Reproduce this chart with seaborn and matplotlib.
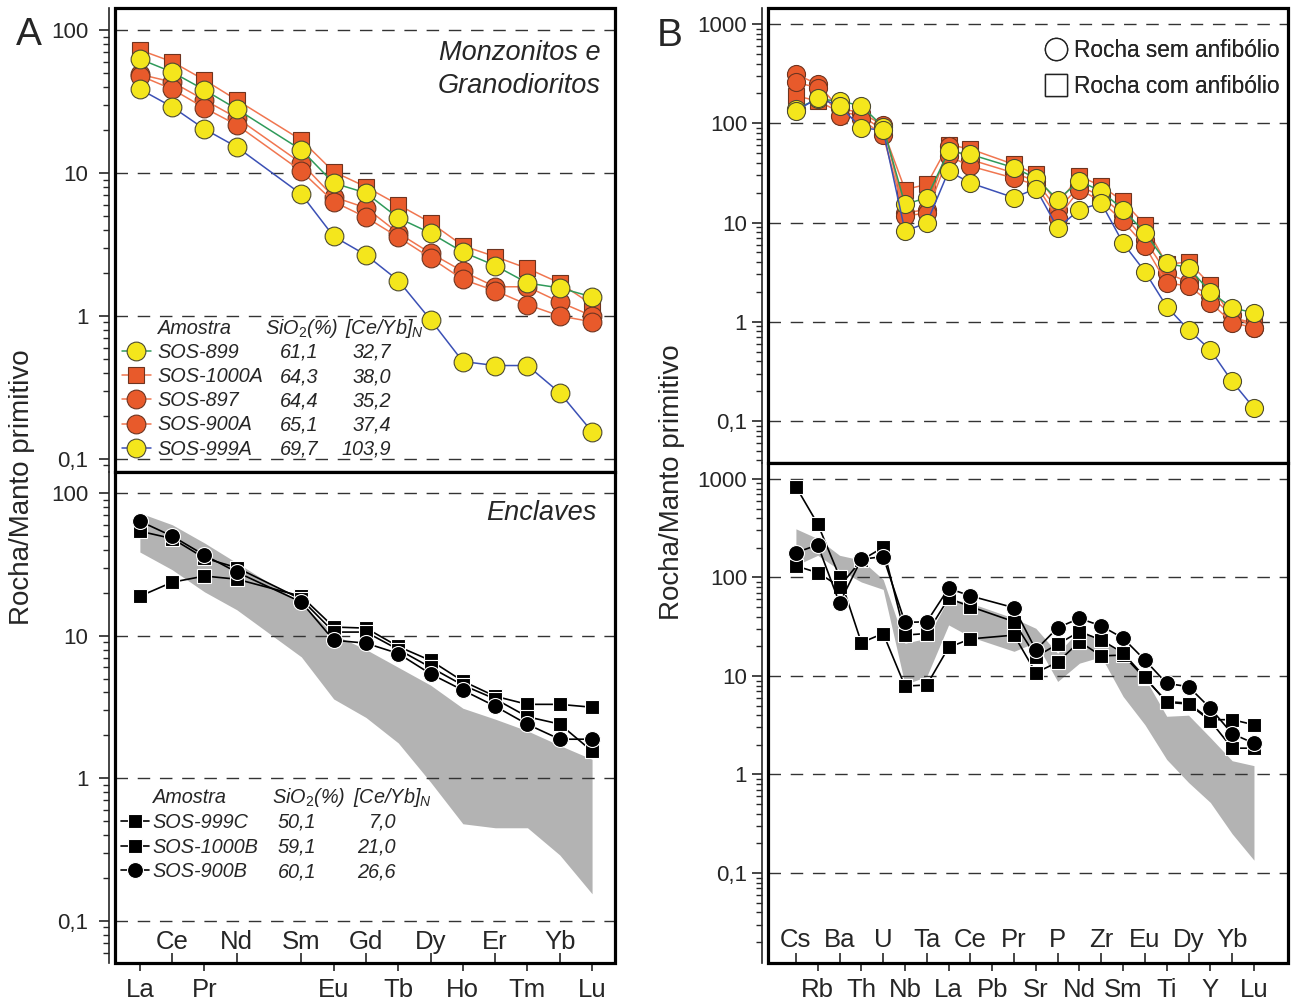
import numpy as np
import pandas as pd
import matplotlib
matplotlib.use("Agg")
import matplotlib.pyplot as plt
import seaborn as sns
from matplotlib.ticker import LogLocator, FuncFormatter, NullFormatter
from matplotlib.lines import Line2D
from matplotlib.patches import Rectangle

nan = np.nan

# ---------------- data ----------------
ree_labels = ["La", "Ce", "Pr", "Nd", "Pm", "Sm", "Eu", "Gd", "Tb", "Dy", "Ho", "Er", "Tm", "Yb", "Lu"]

# Panel A top: granitoids (REE)
ree_sos899 = [62.7, 50.8, 38.1, 28.0, nan, 14.5, 8.5, 7.25, 4.85, 3.8, 2.8, 2.25, 1.7, 1.57, 1.36]
ree_sos1000a = [72.5, 60.0, 44.7, 32.4, nan, 17.0, 10.2, 8.0, 6.0, 4.5, 3.1, 2.6, 2.15, 1.7, 1.2]
ree_sos897 = [49.0, 43.3, 32.4, 24.3, nan, 11.7, 6.8, 5.7, 3.8, 2.75, 2.05, 1.6, 1.6, 1.25, 1.0]
ree_sos900a = [48.0, 38.6, 28.5, 21.7, nan, 10.3, 6.3, 4.9, 3.56, 2.55, 1.8, 1.5, 1.2, 1.0, 0.91]
ree_sos999a = [38.6, 29.0, 20.3, 15.2, nan, 7.1, 3.6, 2.67, 1.77, 0.94, 0.48, 0.45, 0.45, 0.29, 0.155]

# Panel A bottom: enclaves (REE)
ree_sos999c = [18.9, 23.7, 26.2, 24.9, nan, 18.9, 11.5, 11.3, 8.4, 6.7, 4.8, 3.76, 3.3, 3.3, 3.15]
ree_sos1000b = [54.0, 48.0, 35.0, 30.0, nan, 18.0, 10.6, 10.6, 8.0, 6.0, 4.5, 3.6, 2.7, 2.4, 1.55]
ree_sos900b = [63.5, 49.9, 36.7, 27.9, nan, 17.2, 9.3, 8.86, 7.5, 5.4, 4.15, 3.2, 2.39, 1.88, 1.88]

spider_labels = ["Cs", "Rb", "Ba", "Th", "U", "Nb", "Ta", "La", "Ce", "Pb", "Pr",
                 "Sr", "P", "Nd", "Zr", "Sm", "Eu", "Ti", "Dy", "Y", "Yb", "Lu"]

# Panel B top: granitoids (multi-element)
sp_sos899 = [140, 175, 168, 150, 92, 15.2, 17.8, 52, 48.6, nan, 35.7, 28, 17, 26.1, 20.7, 13.5, 7.9, 3.9, 3.5, 2.0, 1.38, 1.23]
sp_sos1000a = [189, 168, 130, 120, 85, 21.5, 24.2, 61, 55, nan, 38.5, 30.5, 15.5, 29.4, 23.3, 16.4, 9.5, 3.8, 4.0, 2.37, 1.1, 0.97]
sp_sos897 = [312, 248, 141, 128, 95.5, 12.5, 13.5, 59, 43, nan, 31.6, 26.1, 13.5, 23.3, 18.4, 12.0, 6.7, 3.1, 2.5, 1.8, 1.17, 0.87]
sp_sos900a = [258, 229, 119, 110, 75.7, 11.6, 12.5, 46.7, 37, nan, 28, 24, 11.1, 21.5, 16.4, 10.3, 5.8, 2.45, 2.3, 1.56, 0.98, 0.87]
sp_sos999a = [133, 180, 150, 90, 85, 8.2, 9.9, 33, 25, nan, 17.8, 22, 8.8, 13.5, 15.7, 6.2, 3.2, 1.42, 0.83, 0.52, 0.25, 0.135]

# Panel B bottom: enclaves (multi-element)
sp_sos999c = [836, 349, 102, 21.8, 27, 7.9, 8.1, 19.5, 23.8, nan, 26, 10.8, 13.8, 22.3, 16, 16.3, 9.5, 5.5, 5.3, 3.6, 3.6, 3.2]
sp_sos1000b = [131, 112, 81, 150, 202, 26, 27, 61.5, 50.6, nan, 35.6, 15.7, 21, 28.2, 23.2, 17.1, 9.7, 5.4, 5.2, 3.5, 1.85, 1.85]
sp_sos900b = [179, 214, 55, 153, 163, 35, 35.5, 77.6, 65, nan, 49.3, 18.4, 30.9, 38.5, 32.2, 24.2, 14.5, 8.4, 7.8, 4.7, 2.6, 2.07]

granitoid_names = ["SOS-899", "SOS-1000A", "SOS-897", "SOS-900A", "SOS-999A"]
granitoid_sio2 = ["61,1", "64,3", "64,4", "65,1", "69,7"]
granitoid_ceyb = ["32,7", "38,0", "35,2", "37,4", "103,9"]
enclave_names = ["SOS-999C", "SOS-1000B", "SOS-900B"]
enclave_sio2 = ["50,1", "59,1", "60,1"]
enclave_ceyb = ["7,0", "21,0", "26,6"]

ree_gran = {"SOS-899": ree_sos899, "SOS-1000A": ree_sos1000a, "SOS-897": ree_sos897,
            "SOS-900A": ree_sos900a, "SOS-999A": ree_sos999a}
ree_encl = {"SOS-999C": ree_sos999c, "SOS-1000B": ree_sos1000b, "SOS-900B": ree_sos900b}
sp_gran = {"SOS-899": sp_sos899, "SOS-1000A": sp_sos1000a, "SOS-897": sp_sos897,
           "SOS-900A": sp_sos900a, "SOS-999A": sp_sos999a}
sp_encl = {"SOS-999C": sp_sos999c, "SOS-1000B": sp_sos1000b, "SOS-900B": sp_sos900b}

# ---------------- style ----------------
sns.set_style("ticks")
plt.rcParams["font.family"] = ["Liberation Sans", "DejaVu Sans"]
plt.rcParams["mathtext.fontset"] = "custom"
plt.rcParams["mathtext.it"] = "Liberation Sans:italic"
plt.rcParams["mathtext.rm"] = "Liberation Sans"
plt.rcParams["mathtext.default"] = "it"

YELLOW = "#f4e61c"
ORANGE = "#e85a2b"
EDGE_Y = "#4d4a30"
EDGE_O = "#6e3420"
gran_style = {
    "SOS-899": dict(line="#2f9a5a", face=YELLOW, edge=EDGE_Y, marker="o"),
    "SOS-1000A": dict(line="#f07650", face=ORANGE, edge=EDGE_O, marker="s"),
    "SOS-897": dict(line="#f07650", face=ORANGE, edge=EDGE_O, marker="o"),
    "SOS-900A": dict(line="#f07650", face=ORANGE, edge=EDGE_O, marker="o"),
    "SOS-999A": dict(line="#3b50b5", face=YELLOW, edge=EDGE_Y, marker="o"),
}
encl_marker = {"SOS-999C": "s", "SOS-1000B": "s", "SOS-900B": "o"}
gran_draw_order = ["SOS-1000A", "SOS-897", "SOS-900A", "SOS-899", "SOS-999A"]
encl_draw_order = ["SOS-999C", "SOS-1000B", "SOS-900B"]

W, H = 1291, 1000
fig = plt.figure(figsize=(W / 100, H / 100), dpi=100)


def add_axes_px(x0, y0, x1, y1):
    return fig.add_axes([x0 / W, 1 - y1 / H, (x1 - x0) / W, (y1 - y0) / H])


axA_top = add_axes_px(115, 8, 615, 472)
axA_bot = add_axes_px(115, 472, 615, 963)
axB_top = add_axes_px(768, 8, 1288, 463)
axB_bot = add_axes_px(768, 463, 1288, 963)


def plot_series(ax, vals, color, face, edge, marker, ms, lw, mew, z):
    df = pd.DataFrame({"pos": np.arange(len(vals)), "val": vals}).dropna()
    sns.lineplot(data=df, x="pos", y="val", ax=ax, color=color, lw=lw, marker=marker,
                 markersize=ms, markerfacecolor=face, markeredgecolor=edge,
                 markeredgewidth=mew, estimator=None, sort=False, zorder=z)
    return ax.lines[-1]


def add_band(ax, series):
    arr = np.array(list(series.values()), dtype=float)
    lo = np.nanmin(arr, axis=0)
    hi = np.nanmax(arr, axis=0)
    pos = np.arange(arr.shape[1])
    m = ~np.isnan(lo)
    ax.fill_between(pos[m], lo[m], hi[m], color="#b3b3b3", lw=0, zorder=0.3)


def style_ax(ax, xlim, ylim, ypad):
    ax.set_yscale("log")
    ax.set_xlim(*xlim)
    ax.set_ylim(*ylim)
    ax.set_xlabel("")
    ax.set_ylabel("")
    for name, sp in ax.spines.items():
        sp.set_visible(name == "left")
    ax.spines["left"].set_position(("outward", 4))
    ax.spines["left"].set_linewidth(1.2)
    ax.add_patch(Rectangle((0, 0), 1, 1, transform=ax.transAxes, fill=False, ec="black",
                           lw=2.3, clip_on=False, zorder=30))
    ax.yaxis.set_major_locator(LogLocator(base=10, numticks=20))
    ax.yaxis.set_minor_locator(LogLocator(base=10, subs=np.arange(2, 10), numticks=20))
    ax.yaxis.set_minor_formatter(NullFormatter())
    ax.yaxis.set_major_formatter(FuncFormatter(lambda v, p: f"{v:g}".replace(".", ",")))
    ax.tick_params(axis="y", which="major", direction="out", length=7, width=1.2, pad=ypad,
                   labelsize=16, left=True)
    ax.tick_params(axis="y", which="minor", direction="out", length=4, width=1.0, left=True)
    ax.grid(False)
    ax.grid(True, axis="y", which="major", color="#333333", lw=1.0, ls=(0, (9, 7)))
    ax.set_axisbelow(True)


def set_two_row_xticks(ax, labels, in_idx, out_idx, in_pad):
    ax.set_xticks(out_idx)
    ax.set_xticklabels([labels[i] for i in out_idx])
    ax.set_xticks(in_idx, minor=True)
    ax.set_xticklabels([labels[i] for i in in_idx], minor=True)
    ax.tick_params(axis="x", which="major", direction="out", length=6, width=1.2,
                   labelsize=18.5, pad=5, bottom=True)
    ax.tick_params(axis="x", which="minor", direction="in", length=7, width=1.2,
                   labelsize=18.5, pad=in_pad, bottom=True)


# ---------------- Panel A ----------------
gran_lines_A = {}
for n in gran_draw_order:
    s = gran_style[n]
    ms = 11.5 if s["marker"] == "s" else 13.5
    gran_lines_A[n] = plot_series(axA_top, ree_gran[n], s["line"], s["face"], s["edge"],
                                  s["marker"], ms, 1.1, 0.8, 3)

add_band(axA_bot, ree_gran)
encl_lines_A = {}
for n in encl_draw_order:
    mk = encl_marker[n]
    ms = 10 if mk == "s" else 11.5
    encl_lines_A[n] = plot_series(axA_bot, ree_encl[n], "black", "black", "white", mk, ms, 1.2, 0.8, 3)

ree_xlim = (-0.77, 14.71)
style_ax(axA_top, ree_xlim, (0.081, 142.6), 8)
style_ax(axA_bot, ree_xlim, (0.0507, 140.5), 8)
axA_top.tick_params(axis="x", which="both", bottom=False, labelbottom=False)
set_two_row_xticks(axA_bot, ree_labels, [1, 3, 5, 7, 9, 11, 13], [0, 2, 6, 8, 10, 12, 14], -24)

axA_top.text(0.972, 0.93, "Monzonitos e\nGranodioritos", transform=axA_top.transAxes,
             ha="right", va="top", fontsize=19.5, style="italic", linespacing=1.35)
axA_bot.text(0.964, 0.917, "Enclaves", transform=axA_bot.transAxes,
             ha="right", va="center", fontsize=19.5, style="italic")

# ---------------- Panel B ----------------
gran_lines_B = {}
for n in gran_draw_order:
    s = gran_style[n]
    ms = 11 if s["marker"] == "s" else 13
    gran_lines_B[n] = plot_series(axB_top, sp_gran[n], s["line"], s["face"], s["edge"],
                                  s["marker"], ms, 1.1, 0.8, 3)

add_band(axB_bot, sp_gran)
for n in encl_draw_order:
    mk = encl_marker[n]
    ms = 9.5 if mk == "s" else 11.5
    plot_series(axB_bot, sp_encl[n], "black", "black", "white", mk, ms, 1.2, 0.8, 3)

sp_xlim = (-1.28, 22.56)
style_ax(axB_top, sp_xlim, (0.0377, 1452), 4)
style_ax(axB_bot, sp_xlim, (0.0122, 1453), 4)
axB_top.tick_params(axis="x", which="both", bottom=False, labelbottom=False)
set_two_row_xticks(axB_bot, spider_labels, list(range(0, 22, 2)), list(range(1, 22, 2)), -25)

legB = axB_top.legend(
    handles=[Line2D([], [], ls="", marker="o", ms=16, mfc="white", mec="#222222", mew=1.0),
             Line2D([], [], ls="", marker="s", ms=15.5, mfc="white", mec="#222222", mew=1.0)],
    labels=["Rocha sem anfibólio", "Rocha com anfibólio"],
    loc="upper right", bbox_to_anchor=(1280 / W, 1 - 39 / H), bbox_transform=fig.transFigure,
    frameon=False, fontsize=16.3, handlelength=1.0, handletextpad=0.3, labelspacing=0.56,
    borderpad=0, borderaxespad=0)

# ---------------- sample tables (legends) ----------------
legA = axA_top.legend([gran_lines_A[n] for n in granitoid_names], granitoid_names,
                      loc="upper left", bbox_to_anchor=(122 / W, 1 - 343 / H),
                      bbox_transform=fig.transFigure, frameon=False,
                      prop={"style": "italic", "size": 14.3}, handlelength=1.45,
                      handletextpad=0.35, labelspacing=0.26, borderpad=0, borderaxespad=0)
legE = axA_bot.legend([encl_lines_A[n] for n in enclave_names], enclave_names,
                      loc="upper left", bbox_to_anchor=(121 / W, 1 - 813 / H),
                      bbox_transform=fig.transFigure, frameon=False,
                      prop={"style": "italic", "size": 14.3}, handlelength=1.4,
                      handletextpad=0.2, labelspacing=0.28, borderpad=0, borderaxespad=0)
if legB not in axB_top.artists:
    axB_top.add_artist(legB)

# panel letters and axis titles
fig.text(29 / W, 1 - 35 / H, "A", fontsize=28, ha="center", va="center")
fig.text(670 / W, 1 - 36 / H, "B", fontsize=28, ha="center", va="center")
fig.text(22 / W, 0.513, "Rocha/Manto primitivo", rotation=90, fontsize=20, ha="center", va="center")
fig.text(672 / W, 0.518, "Rocha/Manto primitivo", rotation=90, fontsize=20, ha="center", va="center")

fig.canvas.draw()
renderer = fig.canvas.get_renderer()


def add_table_columns(leg, sio2_vals, ceyb_vals, x_sio2_head, x_sio2_val, x_ceyb_head, x_ceyb_val):
    bbs = [t.get_window_extent(renderer) for t in leg.get_texts()]
    ys = [(b.y0 + b.y1) / 2 for b in bbs]
    x_name = bbs[0].x0
    step = ys[0] - ys[1]
    yh = ys[0] + step
    kw = dict(fontsize=14.3, style="italic", va="center")
    fig.text(x_name / W, yh / H, "Amostra", ha="left", **kw)
    fig.text(x_sio2_head / W, yh / H, r"SiO$_2$(%)", ha="left", **kw)
    fig.text(x_ceyb_head / W, yh / H, r"[Ce/Yb]$_N$", ha="left", **kw)
    for y, s1, s2 in zip(ys, sio2_vals, ceyb_vals):
        fig.text(x_sio2_val / W, y / H, s1, ha="center", **kw)
        fig.text(x_ceyb_val / W, y / H, s2, ha="right", **kw)


add_table_columns(legA, granitoid_sio2, granitoid_ceyb, 265, 299, 345, 391)
add_table_columns(legE, enclave_sio2, enclave_ceyb, 272, 297, 353, 396)

fig.savefig("out.png", dpi=100)
